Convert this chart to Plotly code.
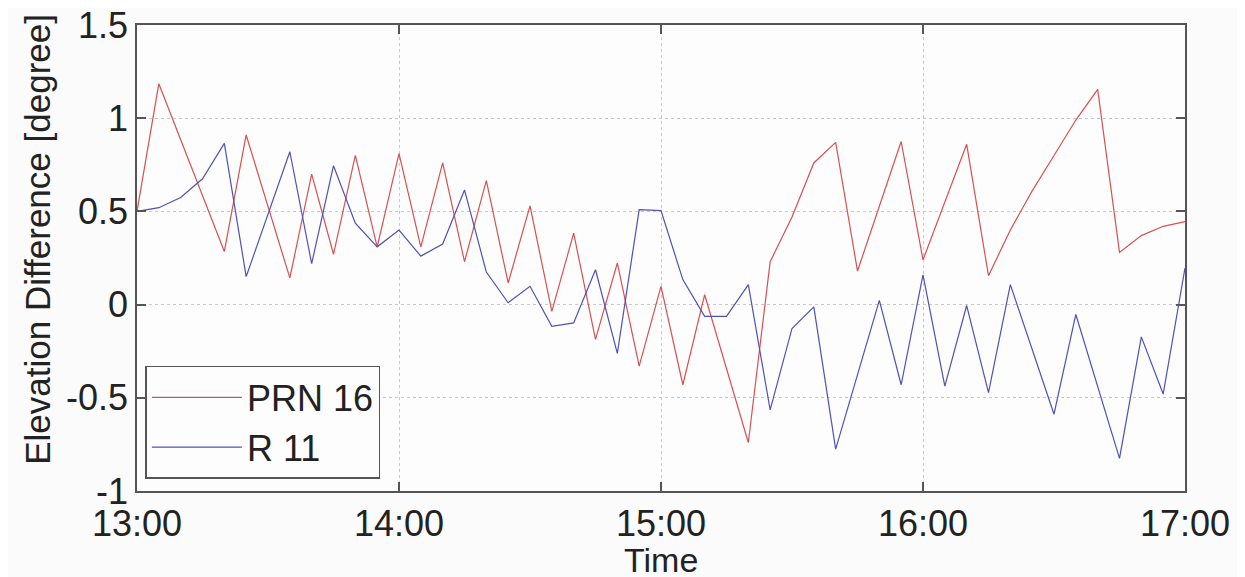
import plotly.graph_objects as go

DAY = "2000-01-01 "

# PRN 16 (red) vertices
prn16_times = ["13:00", "13:05", "13:20", "13:25", "13:35", "13:40", "13:45", "13:50", "13:55",
               "14:00", "14:05", "14:10", "14:15", "14:20", "14:25", "14:30", "14:35", "14:40",
               "14:45", "14:50", "14:55", "15:00", "15:05", "15:10", "15:20", "15:25", "15:30",
               "15:35", "15:40", "15:45", "15:55", "16:00", "16:10", "16:15", "16:20", "16:25",
               "16:30", "16:35", "16:40", "16:45", "16:50", "16:55", "17:00"]
prn16_values = [0.50, 1.185, 0.285, 0.91, 0.143, 0.70, 0.27, 0.80, 0.31,
                0.81, 0.31, 0.76, 0.23, 0.665, 0.116, 0.53, -0.036, 0.383,
                -0.187, 0.223, -0.33, 0.098, -0.43, 0.053, -0.74, 0.23, 0.47,
                0.76, 0.87, 0.18, 0.875, 0.24, 0.86, 0.155, 0.40, 0.61,
                0.80, 0.99, 1.155, 0.28, 0.37, 0.42, 0.445]

# R 11 (blue) vertices
r11_times = ["13:00", "13:05", "13:10", "13:15", "13:20", "13:25", "13:35", "13:40", "13:45",
             "13:50", "13:55", "14:00", "14:05", "14:10", "14:15", "14:20", "14:25", "14:30",
             "14:35", "14:40", "14:45", "14:50", "14:55", "15:00", "15:05", "15:10", "15:15",
             "15:20", "15:25", "15:30", "15:35", "15:40", "15:50", "15:55", "16:00", "16:05",
             "16:10", "16:15", "16:20", "16:30", "16:35", "16:45", "16:50", "16:55", "17:00"]
r11_values = [0.50, 0.52, 0.575, 0.675, 0.865, 0.15, 0.82, 0.22, 0.745,
              0.437, 0.31, 0.40, 0.26, 0.325, 0.615, 0.175, 0.01, 0.098,
              -0.116, -0.098, 0.187, -0.262, 0.51, 0.504, 0.134, -0.063, -0.063,
              0.107, -0.565, -0.128, -0.012, -0.775, 0.023, -0.43, 0.16, -0.437,
              -0.005, -0.472, 0.107, -0.588, -0.053, -0.825, -0.173, -0.48, 0.196]

x_ticks = ["13:00", "14:00", "15:00", "16:00", "17:00"]
y_ticks = [-1, -0.5, 0, 0.5, 1, 1.5]
y_tick_labels = ["-1", "-0.5", "0", "0.5", "1", "1.5"]

FONT = "Liberation Sans, Arial, sans-serif"
AXC = "#555555"
TXT = "#222222"

fig = go.Figure()
fig.add_trace(go.Scatter(x=[DAY + t for t in prn16_times], y=prn16_values, mode="lines",
                         name="PRN 16", line=dict(color="#d85050", width=1.2)))
fig.add_trace(go.Scatter(x=[DAY + t for t in r11_times], y=r11_values, mode="lines",
                         name="R 11", line=dict(color="#5050b8", width=1.2)))

fig.update_layout(
    width=1245, height=577,
    margin=dict(l=129, r=68, t=17, b=94),
    paper_bgcolor="#fbfbfb", plot_bgcolor="#fdfdfd",
    font=dict(family=FONT, size=35, color=TXT),
    showlegend=True,
    legend=dict(x=0.008, y=0.026, xanchor="left", yanchor="bottom",
                bgcolor="#fdfdfd", bordercolor=AXC, borderwidth=1.5,
                font=dict(size=36, color=TXT), itemwidth=90,
                tracegroupgap=0),
    annotations=[
        dict(text="Elevation Difference [degree]", textangle=-90,
             xref="paper", yref="paper", x=-0.095, y=0.54,
             xanchor="center", yanchor="middle", showarrow=False,
             font=dict(size=35, color=TXT)),
        dict(text="Time", xref="paper", yref="paper", x=0.5, y=-0.148,
             xanchor="center", yanchor="middle", showarrow=False,
             font=dict(size=34, color=TXT)),
    ],
)
fig.update_xaxes(
    type="date", automargin=False,
    range=[DAY + "13:00", DAY + "17:00"],
    tickvals=[DAY + t for t in x_ticks], ticktext=x_ticks,
    tickfont=dict(size=36), ticklabeloverflow="allow",
    showline=True, linecolor=AXC, linewidth=1.5, mirror="ticks",
    ticks="inside", ticklen=9, tickcolor=AXC, tickwidth=1.5,
    showgrid=True, gridcolor="#c8c8c8", griddash="dot", gridwidth=1,
    zeroline=False,
)
fig.update_yaxes(
    automargin=False,
    range=[-1, 1.5],
    tickvals=y_ticks, ticktext=y_tick_labels,
    tickfont=dict(size=36), ticklabeloverflow="allow",
    showline=True, linecolor=AXC, linewidth=1.5, mirror="ticks",
    ticks="inside", ticklen=9, tickcolor=AXC, tickwidth=1.5,
    showgrid=True, gridcolor="#c8c8c8", griddash="dot", gridwidth=1,
    zeroline=False,
)

fig.write_html("out.html")
